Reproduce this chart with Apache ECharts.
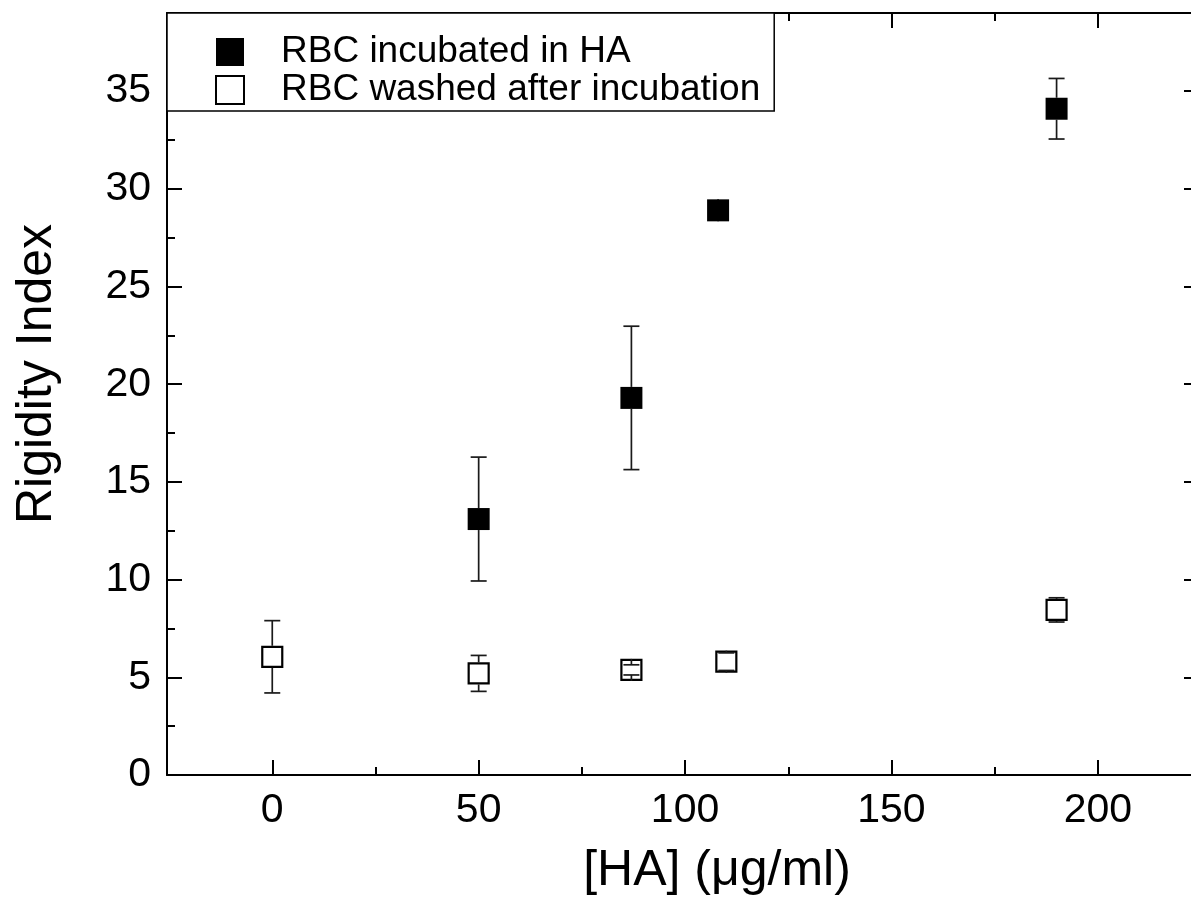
<!DOCTYPE html>
<html>
<head>
<meta charset="utf-8">
<script src="https://cdn.jsdelivr.net/npm/echarts@6/dist/echarts.min.js"></script>
<style>
html,body{margin:0;padding:0;background:#fff;}
#chart{width:1191px;height:916px;}
</style>
</head>
<body>
<div id="chart"></div>
<script>
// ---- data ----
var incubatedX   = [50, 87, 108, 190];
var incubatedY   = [13.1, 19.3, 28.9, 34.1];
var incubatedErr = [3.17, 3.67, 0.4, 1.55];

var washedX   = [0, 50, 87, 110, 190];
var washedY   = [6.05, 5.2, 5.38, 5.8, 8.45];
var washedErr = [1.85, 0.92, 0.26, 0.45, 0.62];

var xMajorTicks = [0, 50, 100, 150, 200];
var xMinorTicks = [25, 75, 125, 175];
var yMajorTicks = [0, 5, 10, 15, 20, 25, 30, 35];
var yMinorTicks = [2.5, 7.5, 12.5, 17.5, 22.5, 27.5, 32.5, 37.5];

var seriesNames = ['RBC incubated in HA', 'RBC washed after incubation'];
var xTitle = '[HA] (\u03bcg/ml)';
var yTitle = 'Rigidity Index';

// ---- build ----
var FONT = '"Liberation Sans", Arial, Helvetica, sans-serif';
var X_MIN = -25.5, X_MAX = 224.5, Y_MIN = 0, Y_MAX = 39;
var HALF = 11;

function zip(xs, ys, es) {
  return xs.map(function (x, i) { return es ? [x, ys[i], es[i]] : [x, ys[i]]; });
}

function errRender(params, api) {
  var x = api.value(0), y = api.value(1), e = api.value(2);
  var c = api.coord([x, y]);
  var t = api.coord([x, y + e]);
  var b = api.coord([x, y - e]);
  var capW = 8;
  var style = { stroke: '#1a1a1a', lineWidth: 1.7 };
  return {
    type: 'group',
    children: [
      { type: 'line', shape: { x1: c[0], y1: c[1] - HALF, x2: c[0], y2: t[1] }, style: style },
      { type: 'line', shape: { x1: c[0], y1: c[1] + HALF, x2: c[0], y2: b[1] }, style: style },
      { type: 'line', shape: { x1: c[0] - capW, y1: t[1], x2: c[0] + capW, y2: t[1] }, style: style },
      { type: 'line', shape: { x1: c[0] - capW, y1: b[1], x2: c[0] + capW, y2: b[1] }, style: style }
    ]
  };
}

function xAx(pos, ticks, len, showLine, showLabel) {
  return {
    type: 'value', position: pos, min: X_MIN, max: X_MAX,
    axisLine: { show: showLine, onZero: false, lineStyle: { color: '#000', width: 2 } },
    axisTick: { show: true, inside: true, length: len, customValues: ticks, lineStyle: { color: '#000', width: 2 } },
    axisLabel: showLabel ? { show: true, customValues: ticks, color: '#000', fontSize: 41, fontFamily: FONT, margin: 15 } : { show: false },
    splitLine: { show: false }, minorTick: { show: false }
  };
}
function yAx(pos, ticks, len, showLine, showLabel) {
  return {
    type: 'value', position: pos, min: Y_MIN, max: Y_MAX,
    axisLine: { show: showLine, onZero: false, lineStyle: { color: '#000', width: 2 } },
    axisTick: { show: true, inside: true, length: len, customValues: ticks, lineStyle: { color: '#000', width: 2 } },
    axisLabel: showLabel ? { show: true, customValues: ticks, color: '#000', fontSize: 41, fontFamily: FONT, margin: 16 } : { show: false },
    splitLine: { show: false }, minorTick: { show: false }
  };
}

var option = {
  backgroundColor: '#fff',
  animation: false,
  grid: { left: 167, top: 13, right: -8, bottom: 141, containLabel: false, outerBoundsMode: 'none' },
  xAxis: [
    xAx('bottom', xMajorTicks, 15, true, true),
    xAx('bottom', xMinorTicks, 8, false, false),
    xAx('top', xMajorTicks, 15, true, false),
    xAx('top', xMinorTicks, 8, false, false)
  ],
  yAxis: [
    yAx('left', yMajorTicks, 15, true, true),
    yAx('left', yMinorTicks, 8, false, false),
    yAx('right', yMajorTicks, 15, true, false),
    yAx('right', yMinorTicks, 8, false, false)
  ],
  legend: {
    data: seriesNames,
    orient: 'vertical',
    left: 167, top: 13,
    padding: [20, 14, 2, 48],
    itemGap: 0,
    itemWidth: 28, itemHeight: 28,
    backgroundColor: '#fff',
    borderColor: '#000', borderWidth: 1.5, borderRadius: 0,
    textStyle: { color: '#000', fontSize: 37, fontFamily: FONT, lineHeight: 38, padding: [0, 0, 0, 32] },
    z: 10
  },
  graphic: [
    { type: 'text', x: 37, y: 374, rotation: Math.PI / 2,
      style: { text: yTitle, fill: '#000', font: '50px ' + FONT, textAlign: 'center', textVerticalAlign: 'middle' } },
    { type: 'text', x: 717, y: 871,
      style: { text: xTitle, fill: '#000', font: '50px ' + FONT, textAlign: 'center', textVerticalAlign: 'middle' } }
  ],
  series: [
    { name: seriesNames[0], type: 'scatter', symbol: 'rect', symbolSize: 22,
      itemStyle: { color: '#000', opacity: 1 }, data: zip(incubatedX, incubatedY), z: 3 },
    { name: seriesNames[1], type: 'scatter', symbol: 'rect', symbolSize: 20,
      itemStyle: { color: '#fff', borderColor: '#000', borderWidth: 2.2, opacity: 1 }, data: zip(washedX, washedY), z: 3 },
    { name: 'err1', type: 'custom', renderItem: errRender, data: zip(incubatedX, incubatedY, incubatedErr), z: 2,
      encode: { x: 0, y: 1 } },
    { name: 'err2', type: 'custom', renderItem: errRender, data: zip(washedX, washedY, washedErr), z: 4,
      encode: { x: 0, y: 1 } }
  ]
};

var chart = echarts.init(document.getElementById('chart'), null, { renderer: 'canvas' });
chart.setOption(option);
</script>
</body>
</html>
